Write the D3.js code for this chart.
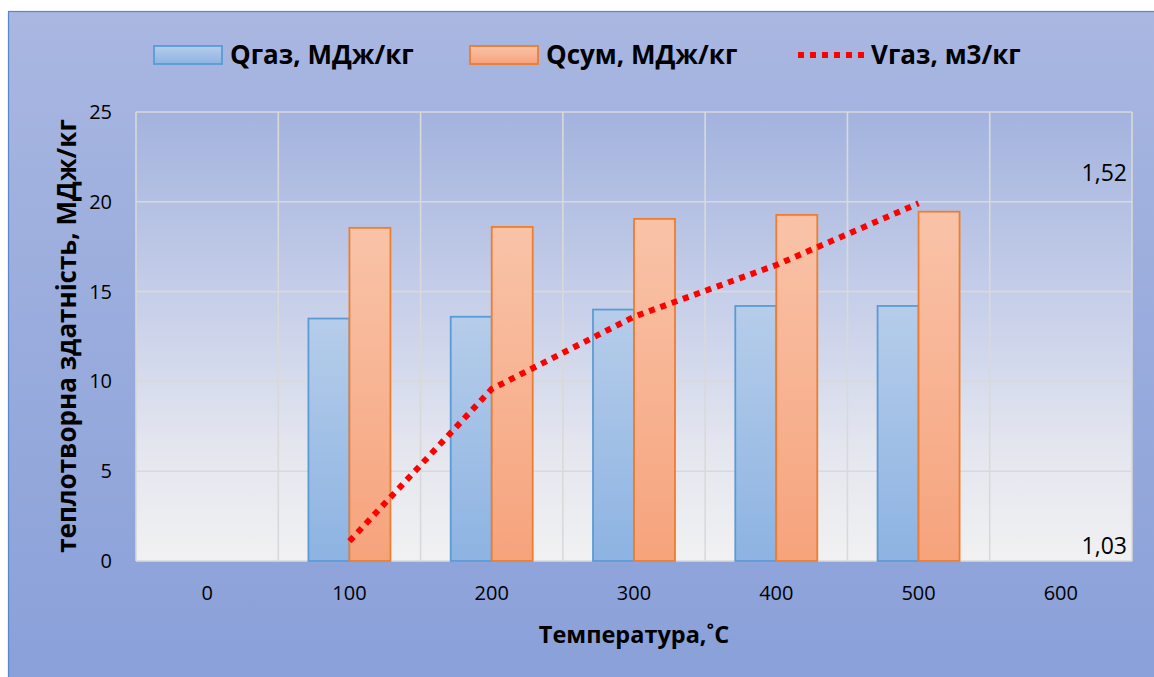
<!DOCTYPE html>
<html>
<head>
<meta charset="utf-8">
<script src="https://cdn.jsdelivr.net/npm/d3@7"></script>
<style>
  body { margin: 0; background: #fff; }
  text { font-family: "Open Sans", "Noto Sans", sans-serif; fill: #000; }
</style>
</head>
<body>
<div class="container"></div>
<script>
// data
const categories = ["0", "100", "200", "300", "400", "500", "600"]
const barTemps = ["100", "200", "300", "400", "500"]
const qGas = [13.5, 13.6, 14.0, 14.2, 14.2]
const qSum = [18.55, 18.6, 19.05, 19.27, 19.45]
const vGas = [1.056, 1.256, 1.351, 1.419, 1.50]
const leftTicks = [0, 5, 10, 15, 20, 25]
const rightTicks = [1.03, 1.52]

const width = 1154, height = 677
const margin = {left: 136, right: 1132, top: 112, bottom: 561}

const svg = d3.select(".container")
              .append("svg")
              .attr("width", width)
              .attr("height", height)

const defs = svg.append("defs")
const grad = (id, stops) => {
    const g = defs.append("linearGradient").attr("id", id)
                  .attr("x1", 0).attr("y1", 0).attr("x2", 0).attr("y2", 1)
    stops.forEach(s => g.append("stop").attr("offset", s[0]).attr("stop-color", s[1]))
}
grad("chartBg", [[0, "#a9b7e1"], [1, "#889fd8"]])
grad("plotBg", [[0, "#a3b3de"], [0.45, "#c9d1ea"], [0.75, "#e4e6ef"], [1, "#f1f1f2"]])
grad("blueBar", [[0, "#b6cdea"], [1, "#8db3e2"]])
grad("orangeBar", [[0, "#f9c3a8"], [1, "#f6a37c"]])

// chart area
svg.append("rect")
   .attr("x", 8.5).attr("y", 11.5)
   .attr("width", 1160).attr("height", 700)
   .attr("fill", "url(#chartBg)")
   .attr("stroke", "#5b86cf").attr("stroke-width", 1.2)

const x = d3.scaleBand().domain(categories).range([margin.left, margin.right])
const y = d3.scaleLinear().domain([0, 25]).range([margin.bottom, margin.top])
const y2 = d3.scaleLinear().domain([1.03, 1.62]).range([margin.bottom, margin.top])
const inner = d3.scaleBand().domain(["gas", "sum"]).range([-41, 41])

// plot area
svg.append("rect")
   .attr("x", margin.left).attr("y", margin.top)
   .attr("width", margin.right - margin.left).attr("height", margin.bottom - margin.top)
   .attr("fill", "url(#plotBg)")

const grid = svg.append("g").attr("stroke", "#d9d9d9").attr("stroke-width", 1.6)
grid.selectAll(".h").data(leftTicks).enter().append("line")
    .attr("x1", margin.left).attr("x2", margin.right)
    .attr("y1", d => y(d)).attr("y2", d => y(d))
const vLines = categories.map(c => x(c)).concat([margin.right])
grid.selectAll(".v").data(vLines).enter().append("line")
    .attr("x1", d => d).attr("x2", d => d)
    .attr("y1", margin.top).attr("y2", margin.bottom)

// bars
const bars = svg.append("g")
bars.selectAll(".gas").data(barTemps).enter().append("rect")
    .attr("x", (d) => x(d) + x.bandwidth() / 2 + inner("gas"))
    .attr("y", (d, i) => y(qGas[i]))
    .attr("width", inner.bandwidth())
    .attr("height", (d, i) => y(0) - y(qGas[i]))
    .attr("fill", "url(#blueBar)")
    .attr("stroke", "#5b9bd5").attr("stroke-width", 1.8)
bars.selectAll(".sum").data(barTemps).enter().append("rect")
    .attr("x", (d) => x(d) + x.bandwidth() / 2 + inner("sum"))
    .attr("y", (d, i) => y(qSum[i]))
    .attr("width", inner.bandwidth())
    .attr("height", (d, i) => y(0) - y(qSum[i]))
    .attr("fill", "url(#orangeBar)")
    .attr("stroke", "#ed7d31").attr("stroke-width", 1.8)

// V gas line on secondary axis
const line = d3.line()
               .x((d, i) => x(barTemps[i]) + x.bandwidth() / 2)
               .y(d => y2(d))
svg.append("path")
   .datum(vGas)
   .attr("d", line)
   .attr("fill", "none")
   .attr("stroke", "#ff0000")
   .attr("stroke-width", 6)
   .attr("stroke-dasharray", "6,6")

// left axis labels
svg.selectAll(".ytick").data(leftTicks).enter().append("text")
   .attr("x", 112).attr("y", d => y(d))
   .attr("dy", "0.35em")
   .attr("text-anchor", "end")
   .style("font-size", "20px")
   .text(d => d)

// right axis labels (inside the plot)
svg.selectAll(".y2tick").data(rightTicks).enter().append("text")
   .attr("x", 1127).attr("y", d => y2(d) - 15)
   .attr("dy", "0.35em")
   .attr("text-anchor", "end")
   .style("font-size", "23px")
   .text(d => d.toFixed(2).replace(".", ","))

// x axis labels
svg.selectAll(".xtick").data(categories).enter().append("text")
   .attr("x", d => x(d) + x.bandwidth() / 2).attr("y", 593)
   .attr("dy", "0.35em")
   .attr("text-anchor", "middle")
   .style("font-size", "20px")
   .text(d => d)

// axis titles
svg.append("text")
   .attr("x", 634).attr("y", 635)
   .attr("dy", "0.35em")
   .attr("text-anchor", "middle")
   .style("font-size", "23.5px").style("font-weight", "bold")
   .text("Температура,˚С")

svg.append("text")
   .attr("transform", "translate(67,336) rotate(-90)")
   .attr("dy", "0.35em")
   .attr("text-anchor", "middle")
   .style("font-size", "26px").style("font-weight", "bold")
   .text("теплотворна здатність, МДж/кг")

// legend
const legend = svg.append("g")
legend.append("rect").attr("x", 154).attr("y", 46).attr("width", 68).attr("height", 18)
      .attr("fill", "url(#blueBar)").attr("stroke", "#5b9bd5").attr("stroke-width", 1.8)
legend.append("rect").attr("x", 470).attr("y", 46).attr("width", 68).attr("height", 18)
      .attr("fill", "url(#orangeBar)").attr("stroke", "#ed7d31").attr("stroke-width", 1.8)
legend.append("line").attr("x1", 798).attr("x2", 866).attr("y1", 55).attr("y2", 55)
      .attr("stroke", "#ff0000").attr("stroke-width", 6).attr("stroke-dasharray", "6,6")
const legendText = [["Qгаз, МДж/кг", 230], ["Qсум, МДж/кг", 546], ["Vгаз, м3/кг", 871]]
legend.selectAll(".lt").data(legendText).enter().append("text")
      .attr("x", d => d[1]).attr("y", 55)
      .attr("dy", "0.35em")
      .style("font-size", "26px").style("font-weight", "bold")
      .text(d => d[0])
</script>
</body>
</html>
